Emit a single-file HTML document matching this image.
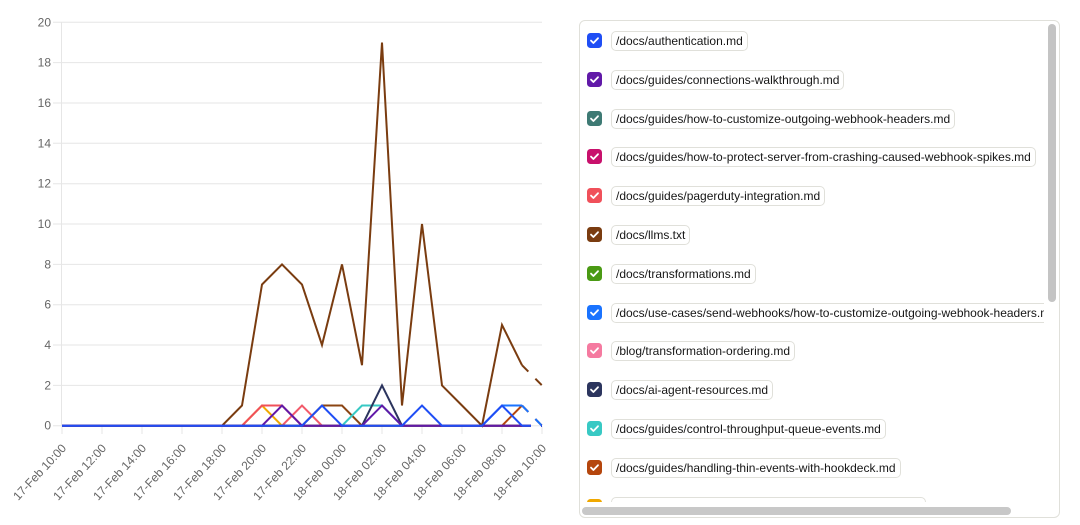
<!DOCTYPE html>
<html>
<head>
<meta charset="utf-8">
<style>
  html, body { margin:0; padding:0; background:#fff; }
  body { width:1080px; height:525px; position:relative; overflow:hidden; font-family:"Liberation Sans", Arial, sans-serif; }
  svg.chart { position:absolute; left:0; top:0; }
  .panel { position:absolute; left:579px; top:20px; width:481px; height:498px; box-sizing:border-box; border:1px solid #e0e0da; border-radius:6px; background:#fff; }
  .vp { position:absolute; left:0; top:0; width:464px; height:481px; overflow:hidden; }
  .row { position:absolute; left:0; height:22px; width:2000px; }
  .cb { position:absolute; left:7px; top:2px; width:15px; height:15px; border-radius:3.5px; }
  .cb svg { position:absolute; left:0; top:0; }
  .lb { position:absolute; left:31px; top:0; height:20px; box-sizing:border-box; border:1px solid #e0e0da; border-radius:5px; padding:0 4px; font-size:12px; line-height:18px; color:#161616; white-space:nowrap; background:#fff; }
  .vthumb { position:absolute; left:468px; top:3px; width:8px; height:278px; border-radius:4px; background:#c4c4c4; }
  .hthumb { position:absolute; left:2px; top:486px; width:429px; height:8px; border-radius:4px; background:#c8c8c8; }
</style>
</head>
<body>
<svg class="chart" width="560" height="525" viewBox="0 0 560 525" xmlns="http://www.w3.org/2000/svg">
  <g stroke="#e6e6e6" stroke-width="1">
    <line x1="53" y1="22.3" x2="542" y2="22.3"/>
    <line x1="53" y1="62.6" x2="542" y2="62.6"/>
    <line x1="53" y1="103" x2="542" y2="103"/>
    <line x1="53" y1="143.3" x2="542" y2="143.3"/>
    <line x1="53" y1="183.7" x2="542" y2="183.7"/>
    <line x1="53" y1="224" x2="542" y2="224"/>
    <line x1="53" y1="264.4" x2="542" y2="264.4"/>
    <line x1="53" y1="304.7" x2="542" y2="304.7"/>
    <line x1="53" y1="345" x2="542" y2="345"/>
    <line x1="53" y1="385.4" x2="542" y2="385.4"/>
    <line x1="53" y1="425.7" x2="542" y2="425.7"/>
    <line x1="61.5" y1="22" x2="61.5" y2="426"/>
    <line x1="62" y1="426" x2="62" y2="434"/>
    <line x1="102" y1="426" x2="102" y2="434"/>
    <line x1="142" y1="426" x2="142" y2="434"/>
    <line x1="182" y1="426" x2="182" y2="434"/>
    <line x1="222" y1="426" x2="222" y2="434"/>
    <line x1="262" y1="426" x2="262" y2="434"/>
    <line x1="302" y1="426" x2="302" y2="434"/>
    <line x1="342" y1="426" x2="342" y2="434"/>
    <line x1="382" y1="426" x2="382" y2="434"/>
    <line x1="422" y1="426" x2="422" y2="434"/>
    <line x1="462" y1="426" x2="462" y2="434"/>
    <line x1="502" y1="426" x2="502" y2="434"/>
    <line x1="542" y1="426" x2="542" y2="434"/>
  </g>
  <g font-family="Liberation Sans, Arial, sans-serif" font-size="12" fill="#666" text-anchor="end" dominant-baseline="central">
    <text x="51" y="22.3">20</text>
    <text x="51" y="62.6">18</text>
    <text x="51" y="103">16</text>
    <text x="51" y="143.3">14</text>
    <text x="51" y="183.7">12</text>
    <text x="51" y="224">10</text>
    <text x="51" y="264.4">8</text>
    <text x="51" y="304.7">6</text>
    <text x="51" y="345">4</text>
    <text x="51" y="385.4">2</text>
    <text x="51" y="425.7">0</text>
  </g>
  <g font-family="Liberation Sans, Arial, sans-serif" font-size="12" fill="#666" text-anchor="end" dominant-baseline="central">
    <text transform="translate(64,446) rotate(-47)">17-Feb 10:00</text>
    <text transform="translate(104,446) rotate(-47)">17-Feb 12:00</text>
    <text transform="translate(144,446) rotate(-47)">17-Feb 14:00</text>
    <text transform="translate(184,446) rotate(-47)">17-Feb 16:00</text>
    <text transform="translate(224,446) rotate(-47)">17-Feb 18:00</text>
    <text transform="translate(264,446) rotate(-47)">17-Feb 20:00</text>
    <text transform="translate(304,446) rotate(-47)">17-Feb 22:00</text>
    <text transform="translate(344,446) rotate(-47)">18-Feb 00:00</text>
    <text transform="translate(384,446) rotate(-47)">18-Feb 02:00</text>
    <text transform="translate(424,446) rotate(-47)">18-Feb 04:00</text>
    <text transform="translate(464,446) rotate(-47)">18-Feb 06:00</text>
    <text transform="translate(504,446) rotate(-47)">18-Feb 08:00</text>
    <text transform="translate(544,446) rotate(-47)">18-Feb 10:00</text>
  </g>
  <g fill="none" stroke-width="2" stroke-linejoin="miter">
    <polyline stroke="#8b4513" points="62,425.7 302,425.7 322,405.5 342,405.5 362,425.7 522,425.7"/>
    <line stroke="#8b4513" x1="522" y1="425.7" x2="542" y2="425.7" stroke-dasharray="9 10"/>
    <polyline stroke="#f0a800" points="62,425.7 242,425.7 262,405.5 282,425.7 522,425.7"/>
    <line stroke="#f0a800" x1="522" y1="425.7" x2="542" y2="425.7" stroke-dasharray="9 10"/>
    <polyline stroke="#b5460d" points="62,425.7 502,425.7 522,405.5"/>
    <line stroke="#b5460d" x1="522" y1="405.5" x2="542" y2="425.7" stroke-dasharray="9 10"/>
    <polyline stroke="#38c9c4" points="62,425.7 342,425.7 362,405.5 382,405.5 402,425.7 522,425.7"/>
    <line stroke="#38c9c4" x1="522" y1="425.7" x2="542" y2="425.7" stroke-dasharray="9 10"/>
    <polyline stroke="#2c355e" points="62,425.7 362,425.7 382,385.4 402,425.7 522,425.7"/>
    <line stroke="#2c355e" x1="522" y1="425.7" x2="542" y2="425.7" stroke-dasharray="9 10"/>
    <polyline stroke="#f25a6a" points="62,425.7 282,425.7 302,405.5 322,425.7 522,425.7"/>
    <line stroke="#f25a6a" x1="522" y1="425.7" x2="542" y2="425.7" stroke-dasharray="9 10"/>
    <polyline stroke="#1a73ff" points="62,425.7 482,425.7 502,405.5 522,405.5"/>
    <line stroke="#1a73ff" x1="522" y1="405.5" x2="542" y2="425.7" stroke-dasharray="9 10"/>
    <polyline stroke="#4a9a14" points="62,425.7 522,425.7"/>
    <line stroke="#4a9a14" x1="522" y1="425.7" x2="542" y2="425.7" stroke-dasharray="9 10"/>
    <polyline stroke="#7a3c10" points="62,425.7 222,425.7 242,405.5 262,284.5 282,264.4 302,284.5 322,345 342,264.4 362,365.2 382,42.5 402,405.5 422,224 442,385.4 462,405.5 482,425.7 502,324.9 522,365.2"/>
    <line stroke="#7a3c10" x1="522" y1="365.2" x2="542" y2="385.4" stroke-dasharray="9 10"/>
    <polyline stroke="#f0505a" points="62,425.7 242,425.7 262,405.5 282,405.5 302,425.7 522,425.7"/>
    <line stroke="#f0505a" x1="522" y1="425.7" x2="542" y2="425.7" stroke-dasharray="9 10"/>
    <polyline stroke="#c8106c" points="62,425.7 522,425.7"/>
    <line stroke="#c8106c" x1="522" y1="425.7" x2="542" y2="425.7" stroke-dasharray="9 10"/>
    <polyline stroke="#3e7a74" points="62,425.7 522,425.7"/>
    <line stroke="#3e7a74" x1="522" y1="425.7" x2="542" y2="425.7" stroke-dasharray="9 10"/>
    <polyline stroke="#6119a8" points="62,425.7 262,425.7 282,405.5 302,425.7 362,425.7 382,405.5 402,425.7 522,425.7"/>
    <line stroke="#6119a8" x1="522" y1="425.7" x2="542" y2="425.7" stroke-dasharray="9 10"/>
    <polyline stroke="#1f4ef5" points="62,425.7 302,425.7 322,405.5 342,425.7 402,425.7 422,405.5 442,425.7 482,425.7 502,405.5 522,425.7"/>
    <line stroke="#1f4ef5" x1="522" y1="425.7" x2="542" y2="425.7" stroke-dasharray="9 10"/>
  </g>
</svg>

<div class="panel">
  <div class="vp">
    <div class="row" style="top:10px"><div class="cb" style="background:#1f4ef5"><svg width="15" height="15"><polyline points="4,7.6 6.4,10 11,5.2" fill="none" stroke="#fff" stroke-width="1.8" stroke-linecap="round" stroke-linejoin="round"/></svg></div><div class="lb">/docs/authentication.md</div></div>
    <div class="row" style="top:48.8px"><div class="cb" style="background:#6119a8"><svg width="15" height="15"><polyline points="4,7.6 6.4,10 11,5.2" fill="none" stroke="#fff" stroke-width="1.8" stroke-linecap="round" stroke-linejoin="round"/></svg></div><div class="lb">/docs/guides/connections-walkthrough.md</div></div>
    <div class="row" style="top:87.6px"><div class="cb" style="background:#3e7a74"><svg width="15" height="15"><polyline points="4,7.6 6.4,10 11,5.2" fill="none" stroke="#fff" stroke-width="1.8" stroke-linecap="round" stroke-linejoin="round"/></svg></div><div class="lb">/docs/guides/how-to-customize-outgoing-webhook-headers.md</div></div>
    <div class="row" style="top:126.4px"><div class="cb" style="background:#c8106c"><svg width="15" height="15"><polyline points="4,7.6 6.4,10 11,5.2" fill="none" stroke="#fff" stroke-width="1.8" stroke-linecap="round" stroke-linejoin="round"/></svg></div><div class="lb">/docs/guides/how-to-protect-server-from-crashing-caused-webhook-spikes.md</div></div>
    <div class="row" style="top:165.2px"><div class="cb" style="background:#f0505a"><svg width="15" height="15"><polyline points="4,7.6 6.4,10 11,5.2" fill="none" stroke="#fff" stroke-width="1.8" stroke-linecap="round" stroke-linejoin="round"/></svg></div><div class="lb">/docs/guides/pagerduty-integration.md</div></div>
    <div class="row" style="top:204px"><div class="cb" style="background:#7a3c10"><svg width="15" height="15"><polyline points="4,7.6 6.4,10 11,5.2" fill="none" stroke="#fff" stroke-width="1.8" stroke-linecap="round" stroke-linejoin="round"/></svg></div><div class="lb">/docs/llms.txt</div></div>
    <div class="row" style="top:242.8px"><div class="cb" style="background:#4a9a14"><svg width="15" height="15"><polyline points="4,7.6 6.4,10 11,5.2" fill="none" stroke="#fff" stroke-width="1.8" stroke-linecap="round" stroke-linejoin="round"/></svg></div><div class="lb">/docs/transformations.md</div></div>
    <div class="row" style="top:281.6px"><div class="cb" style="background:#1a73ff"><svg width="15" height="15"><polyline points="4,7.6 6.4,10 11,5.2" fill="none" stroke="#fff" stroke-width="1.8" stroke-linecap="round" stroke-linejoin="round"/></svg></div><div class="lb">/docs/use-cases/send-webhooks/how-to-customize-outgoing-webhook-headers.md</div></div>
    <div class="row" style="top:320.4px"><div class="cb" style="background:#f57aa0"><svg width="15" height="15"><polyline points="4,7.6 6.4,10 11,5.2" fill="none" stroke="#fff" stroke-width="1.8" stroke-linecap="round" stroke-linejoin="round"/></svg></div><div class="lb">/blog/transformation-ordering.md</div></div>
    <div class="row" style="top:359.2px"><div class="cb" style="background:#2c355e"><svg width="15" height="15"><polyline points="4,7.6 6.4,10 11,5.2" fill="none" stroke="#fff" stroke-width="1.8" stroke-linecap="round" stroke-linejoin="round"/></svg></div><div class="lb">/docs/ai-agent-resources.md</div></div>
    <div class="row" style="top:398px"><div class="cb" style="background:#38c9c4"><svg width="15" height="15"><polyline points="4,7.6 6.4,10 11,5.2" fill="none" stroke="#fff" stroke-width="1.8" stroke-linecap="round" stroke-linejoin="round"/></svg></div><div class="lb">/docs/guides/control-throughput-queue-events.md</div></div>
    <div class="row" style="top:436.8px"><div class="cb" style="background:#b5460d"><svg width="15" height="15"><polyline points="4,7.6 6.4,10 11,5.2" fill="none" stroke="#fff" stroke-width="1.8" stroke-linecap="round" stroke-linejoin="round"/></svg></div><div class="lb">/docs/guides/handling-thin-events-with-hookdeck.md</div></div>
    <div class="row" style="top:475.6px"><div class="cb" style="background:#f0a800"><svg width="15" height="15"><polyline points="4,7.6 6.4,10 11,5.2" fill="none" stroke="#fff" stroke-width="1.8" stroke-linecap="round" stroke-linejoin="round"/></svg></div><div class="lb">/docs/guides/how-to-test-and-replay-webhooks-locally.md</div></div>
  </div>
  <div class="vthumb"></div>
  <div class="hthumb"></div>
</div>
</body>
</html>
